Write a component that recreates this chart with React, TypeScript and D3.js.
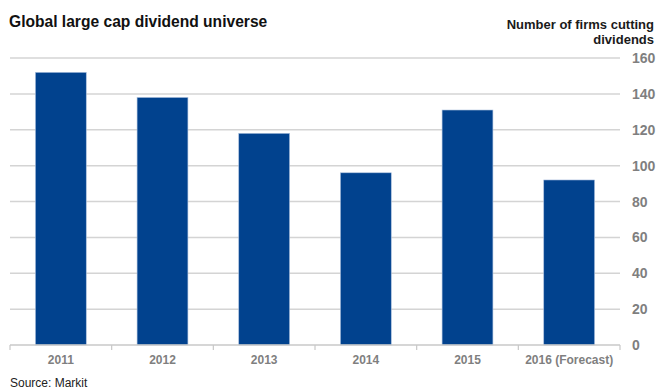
import React from "react";
import * as d3 from "d3";

const categories = ["2011", "2012", "2013", "2014", "2015", "2016 (Forecast)"];
const values = [152, 138, 118, 96, 131, 92];
const yTicks = [0, 20, 40, 60, 80, 100, 120, 140, 160];

const W = 656;
const H = 389;
const left = 10;
const right = 620;
const top = 58;
const bottom = 345;

export default function App() {
  const x = d3.scaleBand<string>().domain(categories).range([left, right]).paddingInner(0.5).paddingOuter(0.25);
  const xb = d3.scaleBand<string>().domain(categories).range([left, right]);
  const y = d3.scaleLinear().domain([0, 160]).range([bottom, top]);
  const font = "Arial, 'Liberation Sans', sans-serif";
  return (
    <svg width={W} height={H} style={{ position: "absolute", left: 0, top: 0, background: "#fff" }} fontFamily={font}>
      <text x={9} y={27} fontSize={15.6} fontWeight="bold" fill="#111">Global large cap dividend universe</text>
      <text x={654} y={29} fontSize={13} fontWeight="bold" fill="#1a1a1a" textAnchor="end">Number of firms  cutting</text>
      <text x={654} y={44} fontSize={13} fontWeight="bold" fill="#1a1a1a" textAnchor="end">dividends</text>
      {yTicks.filter((t) => t > 0).map((t) => (
        <line key={t} x1={left} x2={right} y1={y(t)} y2={y(t)} stroke="#d4d4d4" strokeWidth={1.5} />
      ))}
      {yTicks.map((t) => (
        <text key={"l" + t} x={632} y={y(t) + 5} fontSize={14} fontWeight="bold" fill="#7f7f7f">{t}</text>
      ))}
      {categories.map((c, i) => (
        <rect key={c} x={x(c)} y={y(values[i])} width={x.bandwidth()} height={bottom - y(values[i])} fill="#01428e" stroke="#a9bfdc" strokeWidth={0.6} />
      ))}
      <line x1={left} x2={right} y1={bottom} y2={bottom} stroke="#c8c8c8" strokeWidth={1.5} />
      {[...categories.map((c) => xb(c) as number), right].map((v, i) => (
        <line key={"t" + i} x1={v} x2={v} y1={bottom} y2={bottom + 5} stroke="#c8c8c8" strokeWidth={1.2} />
      ))}
      {categories.map((c) => (
        <text key={"x" + c} x={(xb(c) as number) + xb.bandwidth() / 2} y={364} fontSize={12} fontWeight="bold" fill="#7f7f7f" textAnchor="middle">{c}</text>
      ))}
      <text x={10} y={387} fontSize={12} fill="#222">Source: Markit</text>
    </svg>
  );
}
